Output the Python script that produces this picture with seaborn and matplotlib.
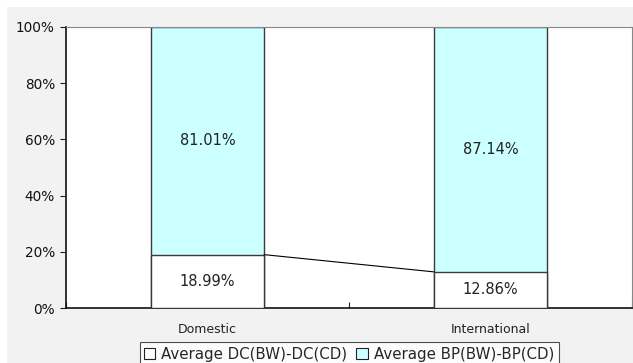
import matplotlib
matplotlib.use("Agg")
import matplotlib.pyplot as plt
from matplotlib.patches import Patch, Rectangle
from matplotlib.ticker import FixedLocator
import numpy as np
import pandas as pd
import seaborn as sns

# Share of each component by market
categories = ["Domestic", "International"]
dc_share = [18.99, 12.86]   # Average DC(BW)-DC(CD)
bp_share = [81.01, 87.14]   # Average BP(BW)-BP(CD)
series_names = ["Average DC(BW)-DC(CD)", "Average BP(BW)-BP(CD)"]
y_ticks = [0, 20, 40, 60, 80, 100]

sns.set_theme(style="white")
plt.rcParams["font.family"] = ["DejaVu Sans"]

W, H = 633, 363
fig = plt.figure(figsize=(W / 100, H / 100), dpi=100)
fig.patch.set_facecolor("white")
fig.add_artist(Rectangle((7 / W, 0), 1, (H - 7) / H, transform=fig.transFigure,
                         facecolor="#f2f2f2", edgecolor="none", zorder=-10))

ax = fig.add_axes([66 / W, 55 / H, (632 - 66) / W, (308 - 27) / H])
ax.set_facecolor("white")

df = pd.DataFrame({"category": categories, "dc": dc_share, "bp": bp_share})
df["total"] = df["dc"] + df["bp"]

bar_w = 0.4
cyan = "#ccffff"
edge = "#3a3a3a"

# Stacked bars: full height in cyan, lower segment in white drawn over it
sns.barplot(data=df, x="category", y="total", color=cyan, saturation=1,
            width=bar_w, edgecolor=edge, linewidth=1.0, ax=ax, zorder=2)
sns.barplot(data=df, x="category", y="dc", color="white", saturation=1,
            width=bar_w, edgecolor=edge, linewidth=1.0, ax=ax, zorder=3)

# Series line joining the top of the lower segments
ax.plot([0 + bar_w / 2, 1 - bar_w / 2], [df["dc"][0], df["dc"][1]],
        color="black", linewidth=0.8, zorder=4)

# Segment value labels
for i, row in df.iterrows():
    ax.text(i, row["dc"] / 2, f"{row['dc']:.2f}%", ha="center", va="center",
            fontsize=10.5, color="#222222", zorder=5)
    ax.text(i, row["dc"] + row["bp"] / 2, f"{row['bp']:.2f}%", ha="center",
            va="center", fontsize=10.5, color="#222222", zorder=5)

ax.set_xlim(-0.5, 1.5)
ax.set_ylim(0, 100)
ax.set_xlabel("")
ax.set_ylabel("")

ax.set_yticks(y_ticks)
ax.set_yticklabels([f"{t}%" for t in y_ticks], fontsize=9.8, color="#111111")
ax.tick_params(axis="y", which="major", direction="out", length=4, width=0.8,
               color="#222222", left=True, pad=4)

ax.xaxis.set_major_locator(FixedLocator([-0.5, 0.5, 1.5]))
ax.xaxis.set_minor_locator(FixedLocator([0, 1]))
ax.set_xticklabels([], minor=False)
ax.set_xticklabels(categories, minor=True, fontsize=9, color="#222222")
ax.tick_params(axis="x", which="major", direction="in", length=4, width=0.8,
               color="#222222", bottom=True)
ax.tick_params(axis="x", which="minor", length=0, pad=11, bottom=True)

for side in ["left", "bottom"]:
    ax.spines[side].set_color("#111111")
    ax.spines[side].set_linewidth(1.2)
for side in ["top", "right"]:
    ax.spines[side].set_color("#888888")
    ax.spines[side].set_linewidth(0.8)

handles = [Patch(facecolor="white", edgecolor="#222222", linewidth=0.8, label=series_names[0]),
           Patch(facecolor=cyan, edgecolor="#222222", linewidth=0.8, label=series_names[1])]
leg = fig.legend(handles=handles, loc="upper center", bbox_to_anchor=(349 / W, 21 / H),
                 ncol=2, fontsize=10.8, frameon=True, fancybox=False, handlelength=0.75,
                 handleheight=0.75, handletextpad=0.4, columnspacing=0.6,
                 borderpad=0.3, borderaxespad=0)
leg.get_frame().set_edgecolor("#222222")
leg.get_frame().set_linewidth(0.8)
leg.get_frame().set_facecolor("white")

fig.savefig("out.png", dpi=100, facecolor=fig.get_facecolor())
